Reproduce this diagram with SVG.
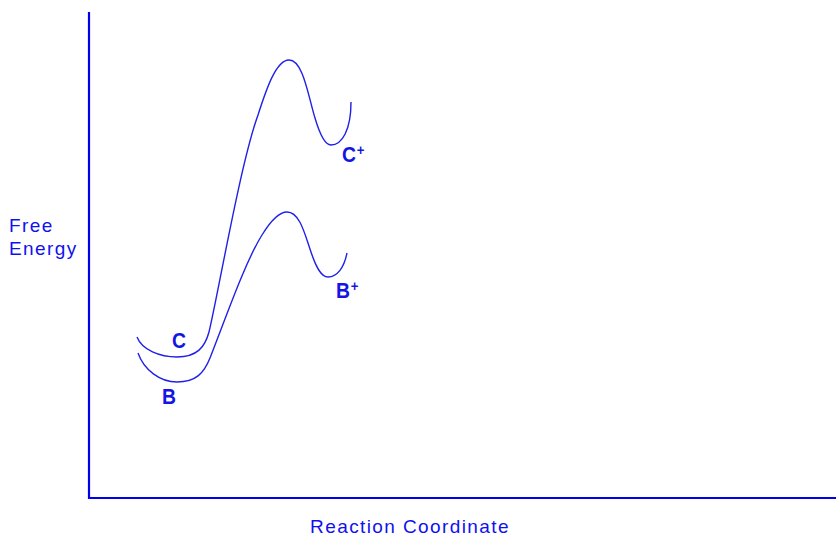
<svg xmlns="http://www.w3.org/2000/svg" width="836" height="537" viewBox="0 0 836 537">
<style>
.axis{stroke:#0000ee;stroke-width:2.2;fill:none}
.curve{stroke:#2020e8;stroke-width:1.4;fill:none}
.lbl{font-family:"Liberation Sans",Arial,sans-serif;font-weight:bold;font-size:22px;fill:#1414e6}
.sup{font-size:15px}
.ax{font-family:"Liberation Sans",Arial,sans-serif;font-size:19px;fill:#1010f0;letter-spacing:1.4px}
</style>
<rect width="836" height="537" fill="#fff"/>
<g id="axes">
<path class="axis" d="M89,12 V498 H836"/>
<text class="ax" x="9" y="232">Free</text>
<text class="ax" x="9" y="255">Energy</text>
<text class="ax" x="410" y="533" text-anchor="middle">Reaction Coordinate</text>
</g>
<g id="connectors">
<path id="curveC" class="curve" d="M137,337 C142,350 160,357 177,357 C197,357 205,347 209,332 C218,295 240,165 258,115 C266,90 276,60 289,60 C303,60 308,95 315,118 C320,135 325,145 331,145 C342,145 351,130 351,102"/>
<path id="curveB" class="curve" d="M138,353 C144,370 160,382 177,382 C196,382 204,373 210,358 C225,320 245,262 262,235 C270,222 278,212 287,212 C300,212 305,235 311,252 C316,267 321,277 328,277 C337,277 344,268 347,253"/>
</g>
<g id="nodeC"><text class="lbl" x="172" y="348" transform="translate(172 0) scale(0.88 1) translate(-172 0)">C</text></g>
<g id="nodeB"><text class="lbl" x="162" y="404" transform="translate(162 0) scale(0.88 1) translate(-162 0)">B</text></g>
<g id="nodeCplus"><text class="lbl" x="342" y="162" transform="translate(342 0) scale(0.88 1) translate(-342 0)">C<tspan class="sup" dx="1" dy="-7">+</tspan></text></g>
<g id="nodeBplus"><text class="lbl" x="336" y="298" transform="translate(336 0) scale(0.88 1) translate(-336 0)">B<tspan class="sup" dx="1" dy="-7">+</tspan></text></g>
</svg>
